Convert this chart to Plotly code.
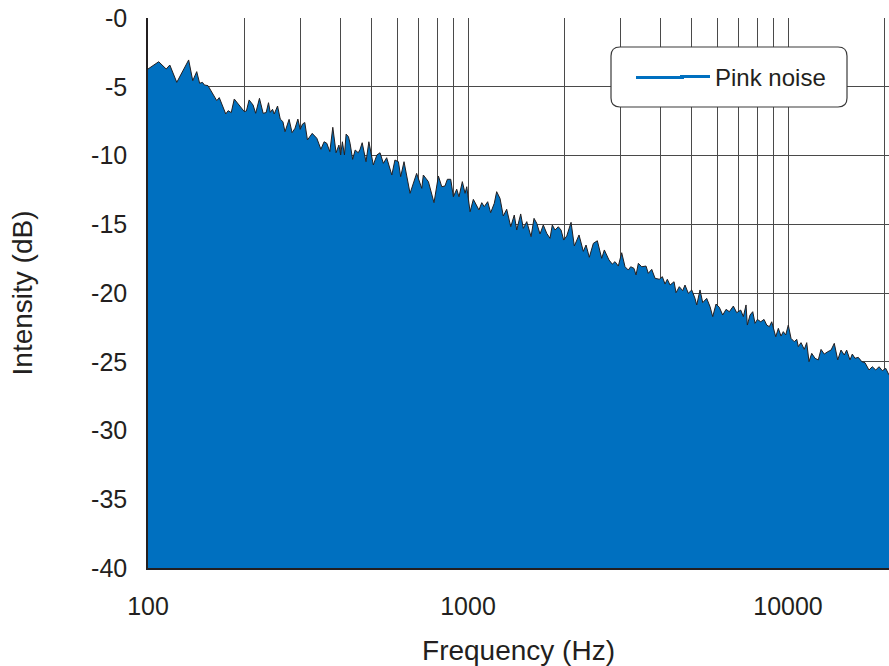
import math
import plotly.graph_objects as go

# ---------------- data ----------------
FREQ_HZ = [
    100, 108, 114, 117, 123, 134, 138, 142, 145, 148, 150, 154, 164, 167, 175, 178,
    182, 186, 200, 203, 207, 213, 217, 223, 229, 234, 238, 241, 245, 248, 254, 259,
    264, 268, 276, 282, 288, 294, 299, 304, 309, 315, 326, 337, 347, 355, 362, 370,
    378, 387, 395, 400, 405, 411, 416, 423, 428, 436, 444, 454, 460, 467, 480, 490,
    506, 519, 531, 544, 557, 578, 591, 606, 616, 631, 659, 691, 717, 725, 752, 783,
    808, 828, 847, 862, 883, 900, 922, 937, 960, 979, 991, 1015, 1039, 1057, 1082, 1104,
    1124, 1152, 1177, 1208, 1229, 1259, 1289, 1321, 1360, 1395, 1420, 1461, 1489, 1526, 1574, 1608,
    1640, 1679, 1719, 1762, 1804, 1834, 1870, 1915, 1953, 1991, 2035, 2099, 2149, 2223, 2293, 2338,
    2394, 2464, 2536, 2617, 2667, 2758, 2824, 2880, 2949, 3022, 3095, 3169, 3224, 3302, 3350, 3406,
    3490, 3600, 3659, 3751, 3841, 3961, 4048, 4127, 4196, 4279, 4404, 4467, 4574, 4687, 4765, 4880,
    5001, 5121, 5185, 5309, 5413, 5570, 5705, 5817, 5957, 6100, 6251, 6403, 6557, 6748, 6913, 7115,
    7250, 7393, 7462, 7609, 7758, 7888, 8020, 8218, 8414, 8579, 8742, 8894, 9154, 9327, 9509, 9667,
    9835, 10020, 10220, 10460, 10650, 10770, 10980, 11240, 11440, 11630, 11860, 12150, 12430, 12680, 12980, 13310,
    13630, 13950, 14300, 14640, 14990, 15250, 15620, 15880, 16190, 16580, 17000, 17400, 17910, 18340, 18800, 19250,
    19710, 20200, 20680,
]
INTENSITY_DB = [
    -3.71, -3.18, -3.71, -3.42, -4.68, -3.05, -4.56, -3.90, -4.75, -4.68, -4.87, -4.92, -6.01, -5.79, -6.98, -6.74,
    -6.88, -5.89, -6.81, -6.76, -5.96, -6.33, -6.93, -5.84, -6.93, -6.88, -6.16, -6.86, -6.64, -6.98, -6.40, -7.35,
    -7.54, -8.27, -7.37, -8.34, -8.02, -7.35, -8.10, -7.71, -7.60, -8.87, -8.39, -8.75, -9.55, -9.00, -9.11, -9.72,
    -7.95, -9.80, -9.24, -9.96, -9.00, -9.96, -8.44, -8.63, -9.11, -10.28, -9.60, -9.80, -9.55, -9.07, -10.45, -9.00,
    -10.69, -9.96, -9.80, -10.57, -10.16, -11.42, -10.33, -10.45, -11.54, -10.45, -12.75, -11.30, -12.39, -11.42, -11.90, -13.43,
    -11.49, -12.27, -12.22, -11.73, -11.73, -13.00, -12.45, -13.00, -11.90, -12.75, -12.27, -14.09, -13.19, -13.48, -13.96, -13.43,
    -13.72, -13.36, -14.16, -13.48, -12.63, -13.12, -14.40, -13.91, -15.18, -14.33, -15.42, -14.25, -15.30, -14.81, -15.90, -14.57,
    -14.93, -15.71, -15.05, -15.66, -16.02, -15.05, -15.42, -15.18, -15.42, -16.15, -15.85, -14.86, -16.58, -15.78, -16.97, -16.51,
    -17.40, -16.39, -16.20, -17.48, -16.87, -17.60, -17.90, -17.72, -18.04, -17.07, -18.09, -18.33, -18.09, -18.21, -18.69, -17.84,
    -18.09, -18.04, -18.57, -18.28, -18.93, -19.00, -18.81, -19.35, -19.00, -19.42, -19.18, -19.98, -19.54, -19.83, -19.42, -20.02,
    -19.78, -20.39, -20.87, -19.78, -20.70, -20.39, -20.99, -21.72, -20.80, -21.04, -21.60, -21.19, -21.36, -20.95, -21.43, -21.24,
    -21.72, -20.87, -22.33, -21.60, -21.36, -22.21, -21.92, -22.09, -21.92, -22.33, -22.45, -22.09, -23.18, -22.57, -23.13, -22.81,
    -23.05, -22.33, -23.30, -23.54, -23.37, -23.90, -23.61, -24.10, -23.61, -24.99, -24.39, -24.75, -24.87, -24.10, -24.44, -24.27,
    -24.15, -23.66, -24.87, -24.15, -24.51, -24.15, -24.87, -24.44, -24.75, -24.68, -24.99, -25.07, -25.60, -25.36, -25.60, -25.36,
    -25.65, -25.48, -25.96,
]
SERIES_NAME = "Pink noise"
FLOOR_DB = -40
Y_TICKS = [0, -5, -10, -15, -20, -25, -30, -35, -40]
Y_TICK_TEXT = ["-0", "-5", "-10", "-15", "-20", "-25", "-30", "-35", "-40"]
X_GRID = [100, 200, 300, 400, 500, 600, 700, 800, 900,
          1000, 2000, 3000, 4000, 5000, 6000, 7000, 8000, 9000,
          10000, 20000]
X_LABELED = {100: "100", 1000: "1000", 10000: "10000"}
X_MIN, X_MAX = 100, 20680
X_TITLE = "Frequency (Hz)"
Y_TITLE = "Intensity (dB)"

# ---------------- style ----------------
BLUE = "#0070c0"
INK = "#231f20"
GRID = "#4a4a4a"
FONT = "Liberation Sans"
W, H = 889, 666
ML, MR, MT, MB = 148, 0, 18, 98

fig = go.Figure()
# invisible floor for the filled area
fig.add_trace(go.Scatter(x=FREQ_HZ, y=[FLOOR_DB] * len(FREQ_HZ), mode="lines",
                         line=dict(width=0, color=BLUE), showlegend=False, hoverinfo="skip"))
fig.add_trace(go.Scatter(x=FREQ_HZ, y=INTENSITY_DB, mode="lines", fill="tonexty",
                         fillcolor=BLUE, line=dict(color=INK, width=1),
                         showlegend=False, name=SERIES_NAME))
# legend entry
fig.add_trace(go.Scatter(x=[None], y=[None], mode="lines", name=SERIES_NAME,
                         line=dict(color=BLUE, width=3)))

# rounded legend frame (paper coords)
pw, ph = W - ML - MR, H - MT - MB
x0, x1 = (611 - ML) / pw, (847 - ML) / pw
y1, y0 = (H - MB - 47) / ph, (H - MB - 107) / ph
rx, ry = 9 / pw, 9 / ph
path = (f"M {x0+rx},{y1} L {x1-rx},{y1} Q {x1},{y1} {x1},{y1-ry} "
        f"L {x1},{y0+ry} Q {x1},{y0} {x1-rx},{y0} L {x0+rx},{y0} "
        f"Q {x0},{y0} {x0},{y0+ry} L {x0},{y1-ry} Q {x0},{y1} {x0+rx},{y1} Z")
fig.add_shape(type="path", path=path, xref="paper", yref="paper",
              fillcolor="white", line=dict(color="#3a3a3a", width=1.2), layer="above")
# lengthen the legend's line sample to match the reference key
key_y = (H - MB - 77) / ph
sample_y = (H - MB - 77.5) / ph
fig.add_shape(type="line", xref="paper", yref="paper",
              x0=(636 - ML) / pw, x1=(684 - ML) / pw, y0=sample_y, y1=sample_y,
              line=dict(color=BLUE, width=3), layer="above")

fig.update_layout(
    width=W, height=H,
    margin=dict(l=ML, r=MR, t=MT, b=MB, autoexpand=False),
    paper_bgcolor="white", plot_bgcolor="white",
    font=dict(family=FONT, color=INK, size=25),
    legend=dict(x=(675 - ML) / pw, y=key_y, xanchor="left", yanchor="middle",
                bgcolor="rgba(0,0,0,0)", borderwidth=0, font=dict(size=24, color=INK)),
    showlegend=True,
)
fig.update_xaxes(
    type="log", range=[math.log10(X_MIN), math.log10(X_MAX)],
    tickvals=X_GRID, ticktext=[X_LABELED.get(v, "") for v in X_GRID],
    ticks="", showgrid=True, gridcolor=GRID, gridwidth=1.4,
    showline=True, linecolor=INK, linewidth=1.5, zeroline=False,
    tickfont=dict(size=25), ticklabelstandoff=15,
    title=dict(text=X_TITLE, font=dict(size=28), standoff=24),
    automargin=False,
)
fig.update_yaxes(
    range=[FLOOR_DB, 0], tickvals=Y_TICKS, ticktext=Y_TICK_TEXT,
    ticks="", showgrid=True, gridcolor=GRID, gridwidth=1.4,
    showline=True, linecolor=INK, linewidth=1.5, zeroline=False,
    tickfont=dict(size=25), ticklabelstandoff=14,
    title=dict(text=Y_TITLE, font=dict(size=28), standoff=50),
    automargin=False,
)

PAGE_JS = ("document.documentElement.style.margin='0';document.body.style.margin='0';"
           "document.documentElement.style.overflow='hidden';document.body.style.overflow='hidden';")
fig.write_html("out.html", post_script=PAGE_JS, config={"displayModeBar": False})
